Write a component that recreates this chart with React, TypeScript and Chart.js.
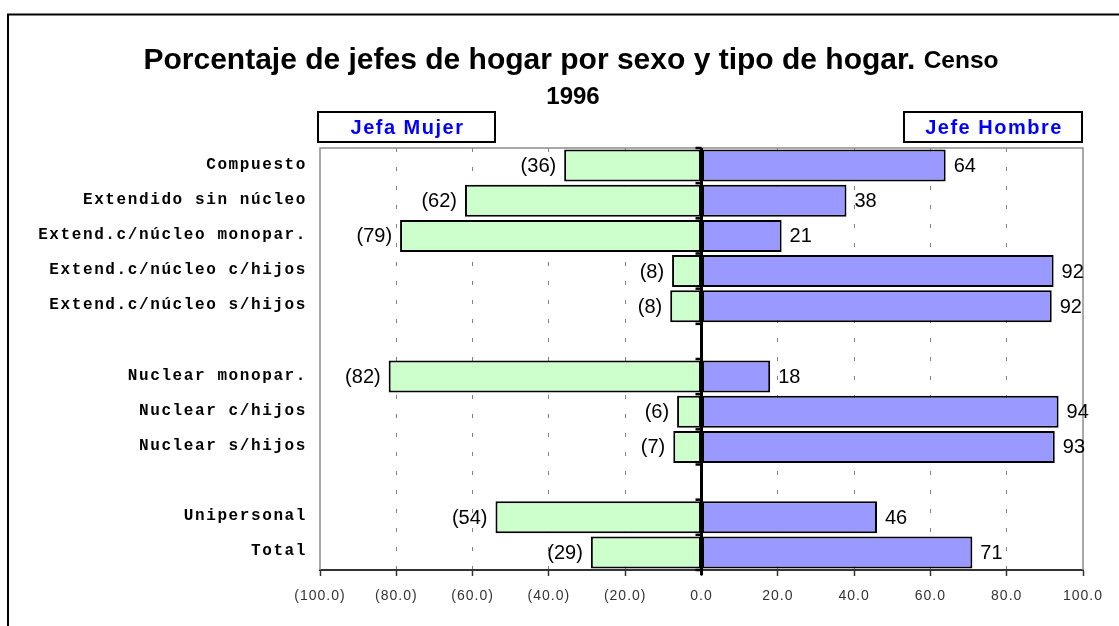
import React, { useEffect, useRef } from "react";
import { Chart, registerables } from "chart.js";

Chart.register(...registerables);

// ---------- data ----------
const categories = [
  "Compuesto",
  "Extendido sin núcleo",
  "Extend.c/núcleo monopar.",
  "Extend.c/núcleo c/hijos",
  "Extend.c/núcleo s/hijos",
  "",
  "Nuclear monopar.",
  "Nuclear c/hijos",
  "Nuclear s/hijos",
  "",
  "Unipersonal",
  "Total",
];
const jefaMujer = [36, 62, 79, 7.7, 8.2, null, 82, 6.4, 7.4, null, 54, 29];
const jefeHombre = [64, 38, 21, 92.3, 91.8, null, 18, 93.6, 92.6, null, 46, 71];
const xTickValues = [-100, -80, -60, -40, -20, 0, 20, 40, 60, 80, 100];
const seriesLabels = ["Jefa Mujer", "Jefe Hombre"];
const seriesColors = ["#CCFFCC", "#9999FF"];
const titleMain = "Porcentaje de jefes de hogar por sexo y tipo de hogar.";
const titleSmall = "Censo";
const titleYear = "1996";

const W = 1119;
const H = 626;

function fmtTick(v: number): string {
  return v < 0 ? `(${Math.abs(v).toFixed(1)})` : v.toFixed(1);
}

const decorPlugin = {
  id: "decor",
  beforeDraw(chart: any) {
    const ctx = chart.ctx;
    ctx.save();
    ctx.fillStyle = "#ffffff";
    ctx.fillRect(0, 0, chart.width, chart.height);
    ctx.strokeStyle = "#000";
    ctx.lineWidth = 2;
    ctx.beginPath();
    ctx.moveTo(8, chart.height + 2);
    ctx.lineTo(8, 14.5);
    ctx.lineTo(chart.width + 2, 14.5);
    ctx.stroke();
    ctx.restore();
    ctx.letterSpacing = "1px";
  },
  beforeDatasetsDraw(chart: any) {
    const ctx = chart.ctx;
    ctx.letterSpacing = "0px";
    const { left, top, right, bottom } = chart.chartArea;
    ctx.save();
    ctx.strokeStyle = "#8c8c8c";
    ctx.lineWidth = 1.5;
    ctx.beginPath();
    ctx.moveTo(left, bottom);
    ctx.lineTo(left, top);
    ctx.lineTo(right, top);
    ctx.lineTo(right, bottom);
    ctx.stroke();
    ctx.restore();
  },
  afterDatasetsDraw(chart: any) {
    const ctx = chart.ctx;
    const xs = chart.scales.x;
    const ys = chart.scales.y;
    const x0 = xs.getPixelForValue(0);
    const n = categories.length;
    ctx.save();
    // zero axis
    ctx.strokeStyle = "#000";
    ctx.lineWidth = 3;
    ctx.beginPath();
    ctx.moveTo(x0, ys.top);
    ctx.lineTo(x0, ys.bottom + 5);
    ctx.stroke();
    ctx.lineWidth = 2.5;
    for (let i = 0; i <= n; i++) {
      let y;
      if (i === 0) y = ys.top;
      else if (i === n) y = ys.bottom;
      else y = (ys.getPixelForValue(i - 1) + ys.getPixelForValue(i)) / 2;
      ctx.beginPath();
      ctx.moveTo(x0 - 6, y);
      ctx.lineTo(x0, y);
      ctx.stroke();
    }
    // data labels
    ctx.fillStyle = "#000";
    ctx.font = '20px "Liberation Sans", Arial, sans-serif';
    ctx.textBaseline = "middle";
    const m0 = chart.getDatasetMeta(0).data;
    const m1 = chart.getDatasetMeta(1).data;
    ctx.textAlign = "right";
    jefaMujer.forEach((v, i) => {
      if (v == null) return;
      const el = m0[i];
      ctx.fillText(`(${Math.round(v)})`, el.x - 8, el.y + 1);
    });
    ctx.textAlign = "left";
    jefeHombre.forEach((v, i) => {
      if (v == null) return;
      const el = m1[i];
      ctx.fillText(`${Math.round(v)}`, el.x + 8, el.y + 1);
    });
    // category labels
    ctx.font = 'bold 16px "Liberation Mono", "Courier New", monospace';
    ctx.letterSpacing = "1.6px";
    ctx.textAlign = "right";
    categories.forEach((c, i) => {
      if (!c) return;
      ctx.fillText(c, chart.chartArea.left - 13, ys.getPixelForValue(i) - 1);
    });
    ctx.letterSpacing = "0px";
    ctx.restore();
  },
  afterDraw(chart: any) {
    const ctx = chart.ctx;
    const { left, right, top } = chart.chartArea;
    ctx.save();
    ctx.letterSpacing = "0px";
    ctx.fillStyle = "#000";
    ctx.textBaseline = "alphabetic";
    const cx = 571;
    ctx.font = 'bold 30px "Liberation Sans", Arial, sans-serif';
    const w1 = ctx.measureText(titleMain + " ").width;
    ctx.font = 'bold 24.5px "Liberation Sans", Arial, sans-serif';
    const w2 = ctx.measureText(titleSmall).width;
    const sx = cx - (w1 + w2) / 2;
    ctx.textAlign = "left";
    ctx.font = 'bold 30px "Liberation Sans", Arial, sans-serif';
    ctx.fillText(titleMain, sx, 69);
    ctx.font = 'bold 24.5px "Liberation Sans", Arial, sans-serif';
    ctx.fillText(titleSmall, sx + w1, 68);
    ctx.font = 'bold 24px "Liberation Sans", Arial, sans-serif';
    ctx.textAlign = "center";
    ctx.fillText(titleYear, cx + 2, 104);

    // legend boxes
    const boxes = [
      { x: left - 2, w: 177 },
      { x: right - 1 - 178, w: 178 },
    ];
    ctx.font = 'bold 20px "Liberation Sans", Arial, sans-serif';
    ctx.textBaseline = "middle";
    boxes.forEach((b, i) => {
      const y = top - 36;
      const h = 30;
      ctx.fillStyle = "#fff";
      ctx.fillRect(b.x, y, b.w, h);
      ctx.strokeStyle = "#000";
      ctx.lineWidth = 2;
      ctx.strokeRect(b.x, y, b.w, h);
      ctx.fillStyle = "#0000FF";
      ctx.letterSpacing = "1.5px";
      ctx.fillText(seriesLabels[i], b.x + b.w / 2 + 1, y + h / 2 + 1);
      ctx.letterSpacing = "0px";
    });
    ctx.restore();
  },
};

export default function App() {
  const ref = useRef<HTMLCanvasElement | null>(null);
  useEffect(() => {
    if (!ref.current) return;
    const chart = new Chart(ref.current, {
      type: "bar",
      data: {
        labels: categories,
        datasets: [
          {
            label: seriesLabels[0],
            data: jefaMujer.map((v) => (v == null ? null : -v)),
            backgroundColor: seriesColors[0],
            borderColor: "#000",
            borderWidth: 2,
            borderSkipped: false,
          },
          {
            label: seriesLabels[1],
            data: jefeHombre,
            backgroundColor: seriesColors[1],
            borderColor: "#000",
            borderWidth: 2,
            borderSkipped: false,
          },
        ],
      },
      options: {
        indexAxis: "y",
        responsive: false,
        animation: false,
        barPercentage: 0.91,
        categoryPercentage: 1,
        layout: { padding: { top: 148, right: 36, bottom: 0, left: 0 } },
        plugins: {
          legend: { display: false },
          tooltip: { enabled: false },
          title: { display: false },
        },
        scales: {
          x: {
            type: "linear",
            min: -100,
            max: 100,
            stacked: true,
            afterBuildTicks: (s: any) => {
              s.ticks = xTickValues.map((v) => ({ value: v }));
            },
            afterFit: (s: any) => {
              s.height = 56;
            },
            ticks: {
              autoSkip: false,
              maxRotation: 0,
              padding: 12,
              color: "#333",
              font: { family: '"Liberation Sans", Arial, sans-serif', size: 14 },
              callback: (v: any) => fmtTick(Number(v)),
            },
            grid: {
              color: (c: any) => {
                const v = c.tick ? c.tick.value : null;
                return v === 0 || v === -100 || v === 100 ? "rgba(0,0,0,0)" : "#808080";
              },
              lineWidth: 1,
              tickLength: 6,
              tickColor: "#333",
              tickWidth: 1.5,
              tickBorderDash: [],
            },
            border: { display: true, color: "#333", width: 2, dash: [4, 15] },
          },
          y: {
            type: "category",
            stacked: true,
            offset: true,
            grid: { display: false },
            border: { display: false },
            ticks: { display: false },
            afterFit: (s: any) => {
              s.width = 320;
            },
          },
        },
      },
      plugins: [decorPlugin],
    } as any);
    return () => chart.destroy();
  }, []);
  return (
    <div style={{ width: W, height: H, overflow: "hidden" }}>
      <style>{"html,body{margin:0;padding:0;overflow:hidden;background:#fff}"}</style>
      <canvas ref={ref} width={W} height={H} style={{ display: "block" }} />
    </div>
  );
}
